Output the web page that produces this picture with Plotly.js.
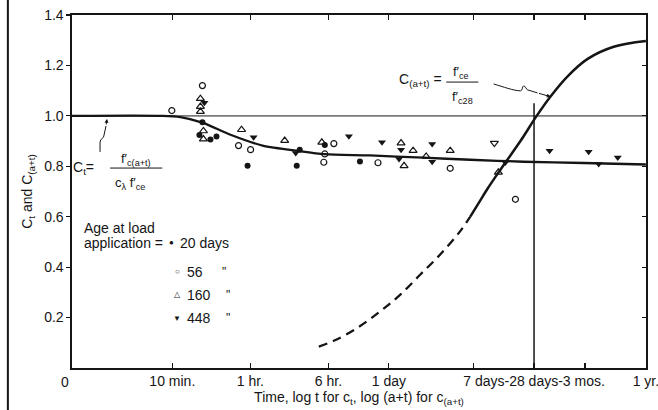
<!DOCTYPE html>
<html><head><meta charset="utf-8">
<script src="https://cdn.plot.ly/plotly-3.0.1.min.js"></script>
<style>html,body{margin:0;padding:0;background:#fff;}#chart{width:658px;height:410px;}</style>
</head><body><div id="chart"></div>
<script>
// x values are log10(time in minutes)
const tickMinutes = [10, 60, 360, 1440, 40320, 525600];
const tickLabels = ["10 min.", "1 hr.", "6 hr.", "1 day", "7 days-28 days-3 mos.", "1 yr."];
const minorTickMinutes = [10080, 129600];
const yTickVals = [0.2, 0.4, 0.6, 0.8, 1.0, 1.2, 1.4];
const yTickLabels = ["0.2", "0.4", "0.6", "0.8", "1.0", "1.2", "1.4"];
const day28Minutes = 40320;

// c_t curve
const ctLogT  = [0, 0.9, 1.08, 1.3, 1.58, 1.9, 2.27, 2.52, 2.97, 3.5, 3.97, 4.5, 5.1, 5.72];
const ctValue = [1.0, 1.0, 0.995, 0.973, 0.925, 0.882, 0.86, 0.848, 0.843, 0.834, 0.826, 0.818, 0.813, 0.807];

// C(a+t) curve: dashed (extrapolated) and solid parts
const catDashLogT  = [2.46, 2.61, 2.84, 3.07, 3.27, 3.47, 3.67, 3.87, 3.97];
const catDashValue = [0.085, 0.108, 0.158, 0.224, 0.29, 0.37, 0.45, 0.543, 0.6];
const catLogT  = [3.97, 4.07, 4.14, 4.25, 4.32, 4.47, 4.63, 4.77, 4.94, 5.14, 5.4, 5.72];
const catValue = [0.6, 0.665, 0.71, 0.775, 0.815, 0.9, 0.999, 1.077, 1.157, 1.226, 1.274, 1.297];

// measured points by age at load application
const d20LogT  = [1.30, 1.27, 1.38, 1.44, 1.75, 2.27, 2.24, 2.52, 2.87];
const d20Value = [0.975, 0.924, 0.906, 0.918, 0.802, 0.866, 0.802, 0.884, 0.819];

const d56LogT  = [0.995, 1.30, 1.66, 1.78, 2.51, 2.52, 2.61, 3.05, 3.77, 4.42];
const d56Value = [1.021, 1.12, 0.882, 0.866, 0.816, 0.849, 0.89, 0.814, 0.792, 0.669];

const d160LogT  = [1.28, 1.28, 1.28, 1.31, 1.31, 1.69, 2.12, 2.49, 3.28, 3.31, 3.40, 3.53, 3.77, 4.25];
const d160Value = [1.068, 1.037, 1.017, 0.94, 0.908, 0.945, 0.902, 0.895, 0.892, 0.802, 0.862, 0.839, 0.862, 0.776];

const d448LogT  = [1.32, 1.81, 2.23, 2.76, 3.09, 3.28, 3.26, 3.59, 3.59, 4.32, 4.76, 5.15, 5.25, 5.44];
const d448Value = [1.052, 0.915, 0.853, 0.919, 0.895, 0.866, 0.829, 0.888, 0.818, 0.815, 0.862, 0.858, 0.809, 0.835];
const d448HollowLogT  = [4.21];
const d448HollowValue = [0.892];

const INK = '#151515';
const FONT = 'Liberation Sans, Arial, sans-serif';

const traces = [
  {x: ctLogT, y: ctValue, mode: 'lines', line: {color: INK, width: 2.3, shape: 'spline', smoothing: 0.7}, hoverinfo: 'skip'},
  {x: catDashLogT, y: catDashValue, mode: 'lines', yaxis: 'y2', line: {color: INK, width: 2.3, dash: '9px,6px', shape: 'spline'}, hoverinfo: 'skip'},
  {x: catLogT, y: catValue, mode: 'lines', yaxis: 'y2', line: {color: INK, width: 2.5, shape: 'spline'}, hoverinfo: 'skip'},
  {x: d20LogT, y: d20Value, mode: 'markers', marker: {symbol: 'circle', size: 6, color: INK}},
  {x: d56LogT, y: d56Value, mode: 'markers', marker: {symbol: 'circle-open', size: 6, color: INK, line: {width: 1.2}}},
  {x: d160LogT, y: d160Value, mode: 'markers', marker: {symbol: 'triangle-up-open', size: 7, color: INK, line: {width: 1.2}}},
  {x: d448LogT, y: d448Value, mode: 'markers', marker: {symbol: 'triangle-down', size: 7, color: INK}},
  {x: d448HollowLogT, y: d448HollowValue, mode: 'markers', marker: {symbol: 'triangle-down-open', size: 7, color: INK, line: {width: 1.2}}}
];

const txt = (x, y, text, opts) => Object.assign({x: x, y: y, xref: 'x', yref: 'y', text: text, showarrow: false,
  font: {family: FONT, size: 14, color: INK}}, opts || {});

const annotations = [
  {x: 0, y: 0, xref: 'paper', yref: 'paper', xanchor: 'center', yanchor: 'top', xshift: -7, yshift: -4, text: '0', showarrow: false, font: {family: FONT, size: 14, color: INK}},
  // C_t formula
  txt(0.11, 0.794, 'C<sub>t</sub>='),
  txt(0.64, 0.826, 'f′<sub>c(a+t)</sub>', {font: {family: FONT, size: 13, color: INK}}),
  txt(0.58, 0.732, 'c<sub>λ</sub> f′<sub>ce</sub>', {font: {family: FONT, size: 13, color: INK}}),
  {x: 0.349, y: 0.988, xref: 'x', yref: 'y', ax: 0.339, ay: 0.96, axref: 'x', ayref: 'y', text: '', showarrow: true, arrowhead: 2, arrowsize: 0.8, arrowwidth: 1, arrowcolor: INK},
  // C(a+t) formula
  txt(3.47, 1.142, 'C<sub>(a+t)</sub> ='),
  txt(3.88, 1.172, 'f′<sub>ce</sub>', {font: {family: FONT, size: 13, color: INK}}),
  txt(3.89, 1.071, 'f′<sub>c28</sub>', {font: {family: FONT, size: 13, color: INK}}),
  {x: 4.772, y: 1.0757, xref: 'x', yref: 'y', ax: 4.64, ay: 1.091, axref: 'x', ayref: 'y', text: '', showarrow: true, arrowhead: 2, arrowsize: 0.8, arrowwidth: 1, arrowcolor: INK},
  // legend
  txt(0.1, 0.555, 'Age at load', {xanchor: 'left'}),
  txt(0.1, 0.496, 'application =', {xanchor: 'left'}),
  txt(0.988, 0.496, '●', {font: {family: FONT, size: 8, color: INK}}),
  txt(1.058, 0.496, '20 days', {xanchor: 'left'}),
  txt(1.048, 0.381, '○', {font: {family: FONT, size: 8, color: INK}}),
  txt(1.128, 0.381, '56', {xanchor: 'left'}),
  txt(1.52, 0.381, '"', {font: {family: FONT, size: 12, color: INK}}),
  txt(1.048, 0.29, '△', {font: {family: FONT, size: 8, color: INK}}),
  txt(1.128, 0.29, '160', {xanchor: 'left'}),
  txt(1.55, 0.29, '"', {font: {family: FONT, size: 12, color: INK}}),
  txt(1.048, 0.198, '▼', {font: {family: FONT, size: 8, color: INK}}),
  txt(1.128, 0.198, '448', {xanchor: 'left'}),
  txt(1.55, 0.198, '"', {font: {family: FONT, size: 12, color: INK}})
];

const shapes = [
  {type: 'line', xref: 'paper', yref: 'y', x0: 0, x1: 1, y0: 1.0, y1: 1.0, line: {color: '#7a7a7a', width: 1.6}, layer: 'below'},
  {type: 'line', xref: 'x', yref: 'y', x0: Math.log10(day28Minutes), x1: Math.log10(day28Minutes), y0: 0, y1: 1.05, line: {color: INK, width: 1.5}},
  // fraction bars
  {type: 'line', xref: 'x', yref: 'y', x0: 0.38, x1: 0.9, y0: 0.793, y1: 0.793, line: {color: INK, width: 1}},
  {type: 'line', xref: 'x', yref: 'y', x0: 3.73, x1: 4.05, y0: 1.134, y1: 1.134, line: {color: INK, width: 1}},
  // leader squiggles
  {type: 'path', xref: 'x', yref: 'y', path: 'M 0.2795,0.857 L 0.2795,0.896 C 0.2795,0.912 0.3195,0.908 0.3195,0.924 L 0.339,0.96', line: {color: INK, width: 1}},
  {type: 'path', xref: 'x', yref: 'y', path: 'M 4.203,1.1265 C 4.30,1.115 4.40,1.10 4.472,1.099 C 4.49,1.099 4.49,1.119 4.502,1.119 C 4.52,1.119 4.53,1.103 4.542,1.103 L 4.64,1.091', line: {color: INK, width: 1}},
  // scan edge line on the left
  {type: 'line', xref: 'paper', yref: 'paper', x0: -0.1117, x1: -0.1117, y0: -0.12, y1: 1.045, line: {color: INK, width: 2}}
];

const layout = {
  width: 658, height: 410,
  margin: {l: 72, r: 12, t: 15, b: 42},
  paper_bgcolor: '#fff', plot_bgcolor: '#fff',
  showlegend: false,
  font: {family: FONT, size: 14, color: INK},
  xaxis: {
    range: [0, 5.7215],
    tickmode: 'array',
    tickvals: tickMinutes.map(m => Math.log10(m)), ticktext: tickLabels,
    ticklabeloverflow: 'allow',
    ticks: 'inside', ticklen: 5, tickwidth: 1.2, tickcolor: INK,
    minor: {tickmode: 'array', tickvals: minorTickMinutes.map(m => Math.log10(m)), ticks: 'inside', ticklen: 5, tickwidth: 1.2, tickcolor: INK, showgrid: false},
    showline: true, linecolor: INK, linewidth: 1.6, mirror: 'ticks',
    showgrid: false, zeroline: false,
    tickfont: {family: FONT, size: 14, color: INK},
    title: {text: 'Time, log t for c<sub>t</sub>, log (a+t) for c<sub>(a+t)</sub>', font: {family: FONT, size: 14, color: INK}, standoff: 2}
  },
  yaxis: {
    range: [0, 1.4], tickvals: yTickVals, ticktext: yTickLabels,
    ticks: 'outside', ticklen: 4, tickwidth: 1.2, tickcolor: INK,
    showline: true, linecolor: INK, linewidth: 1.6,
    showgrid: false, zeroline: false,
    tickfont: {family: FONT, size: 14, color: INK},
    title: {text: 'C<sub>t</sub> and C<sub>(a+t)</sub>', font: {family: FONT, size: 14, color: INK}, standoff: 8}
  },
  yaxis2: {
    overlaying: 'y', side: 'right', range: [0, 1.4], tickvals: yTickVals,
    ticks: 'inside', ticklen: 4, tickwidth: 1.2, tickcolor: INK, showticklabels: false,
    showline: true, linecolor: INK, linewidth: 1.6, showgrid: false, zeroline: false
  },
  annotations: annotations,
  shapes: shapes
};

Plotly.newPlot('chart', traces, layout, {staticPlot: true, displayModeBar: false});
</script></body></html>
